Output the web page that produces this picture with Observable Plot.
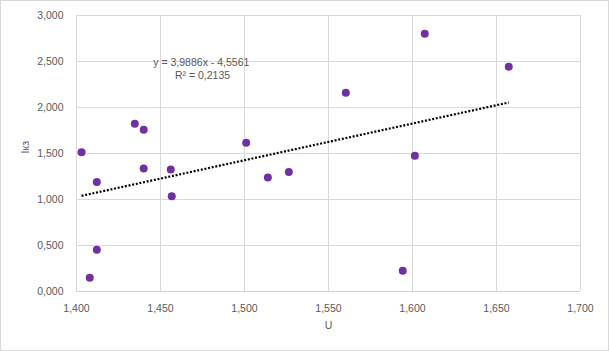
<!DOCTYPE html>
<html>
<head>
<meta charset="utf-8">
<script src="https://cdn.jsdelivr.net/npm/d3@7"></script>
<script src="https://cdn.jsdelivr.net/npm/@observablehq/plot@0.6"></script>
<style>
  html, body { margin: 0; padding: 0; background: #fff; }
  #chart svg { display: block; outline: 1px solid #d9d9d9; outline-offset: -1px; }
</style>
</head>
<body>
<div id="chart"></div>
<script>
const uValues = [1.403, 1.4347, 1.440, 1.440, 1.4561, 1.4121, 1.4567, 1.4121, 1.4079, 1.5603, 1.501, 1.5139, 1.5264, 1.5942, 1.6073, 1.6573, 1.6014];
const ikzValues = [1.514, 1.823, 1.758, 1.337, 1.325, 1.190, 1.036, 0.453, 0.149, 2.160, 1.616, 1.239, 1.299, 0.225, 2.801, 2.442, 1.475];
const xTicks = [1.40, 1.45, 1.50, 1.55, 1.60, 1.65, 1.70];
const yTicks = [0, 0.5, 1.0, 1.5, 2.0, 2.5, 3.0];
const slope = 3.9886;
const intercept = -4.5561;
const equationLines = ["y = 3,9886x - 4,5561", "R² = 0,2135"];
const equationPos = [{x: 1.4743, y: 2.489}, {x: 1.4750, y: 2.344}];

const points = uValues.map((u, i) => ({u, i: ikzValues[i]}));
const xMin = d3.min(uValues), xMax = d3.max(uValues);
const trend = [xMin, xMax].map(u => ({u, i: slope * u + intercept}));
const eqData = equationLines.map((t, k) => ({t, ...equationPos[k]}));
const fmt = d => d.toFixed(3).replace(".", ",");
const font = "'Liberation Sans', Arial, sans-serif";

const chart = Plot.plot({
  width: 609,
  height: 351,
  marginLeft: 76,
  marginRight: 29,
  marginTop: 15,
  marginBottom: 60,
  style: {fontFamily: font, fontSize: "10.5px", color: "#595959", background: "#fff"},
  x: {domain: [1.4, 1.7], ticks: xTicks, tickFormat: fmt},
  y: {domain: [0, 3], ticks: yTicks, tickFormat: fmt},
  marks: [
    Plot.gridX(xTicks, {stroke: "#d9d9d9", strokeOpacity: 1}),
    Plot.gridY(yTicks, {stroke: "#d9d9d9", strokeOpacity: 1}),
    Plot.ruleY([0], {stroke: "#d0d0d0"}),
    Plot.axisX({ticks: xTicks, tickFormat: fmt, tickSize: 0, tickPadding: 13, label: null, fill: "#595959", fontSize: 10.5}),
    Plot.axisY({ticks: yTicks, tickFormat: fmt, tickSize: 0, tickPadding: 13, label: null, fill: "#595959", fontSize: 10.5}),
    Plot.dot(points, {x: "u", y: "i", r: 4, fill: "#7030A0", stroke: "none"}),
    Plot.line(trend, {x: "u", y: "i", stroke: "#000", strokeWidth: 2.2, strokeDasharray: "2,1.7", strokeLinecap: "butt"}),
    Plot.text(eqData, {x: "x", y: "y", text: "t", fill: "#595959", fontSize: 10.5, textAnchor: "middle"}),
    Plot.text(["U"], {frameAnchor: "bottom", dy: 37, fill: "#595959", fontSize: 10.5}),
    Plot.text(["Iкз"], {frameAnchor: "left", dx: -51, rotate: -90, fill: "#595959", fontSize: 10.5})
  ]
});
document.getElementById("chart").appendChild(chart);
</script>
</body>
</html>
